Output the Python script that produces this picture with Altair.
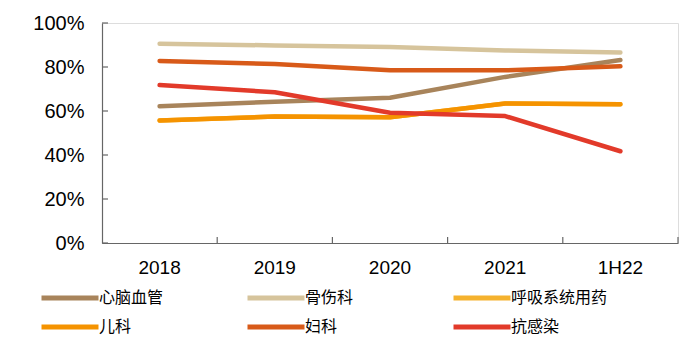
import altair as alt
import pandas as pd

categories = ["2018", "2019", "2020", "2021", "1H22"]
series = ["心脑血管", "骨伤科", "呼吸系统用药", "儿科", "妇科", "抗感染"]
colors = ["#A8845B", "#D6C49C", "#F5B22E", "#F59300", "#D85A19", "#E23A2A"]

xinnao = [62.2, 64.2, 66.0, 75.5, 83.2]
gushang = [90.6, 89.8, 89.1, 87.5, 86.6]
huxi = [55.7, 57.5, 57.2, 63.4, 63.1]
erke = [55.7, 57.5, 57.2, 63.4, 63.1]
fuke = [82.7, 81.4, 78.5, 78.5, 80.3]
kangganran = [71.8, 68.5, 59.2, 57.7, 41.7]

y_ticks = [0, 20, 40, 60, 80, 100]

values = [xinnao, gushang, huxi, erke, fuke, kangganran]
rows = []
for i, (s, vals) in enumerate(zip(series, values)):
    for c, v in zip(categories, vals):
        rows.append({"cat": c, "series": s, "order": i, "value": v / 100.0})
df = pd.DataFrame(rows)

W, H = 576, 220

xenc = alt.X("cat:N", sort=categories, bandPosition=0.5,
             scale=alt.Scale(type="band", paddingInner=0, paddingOuter=0),
             axis=alt.Axis(title=None, ticks=False, labelAngle=0, labelFont="Liberation Sans",
                           labelFontSize=19, labelColor="#000000", labelPadding=15,
                           domainColor="#666666", domainWidth=1.2, grid=False))
yscale = alt.Scale(domain=[0, 1], nice=False)

lines = alt.Chart(df).mark_line(strokeWidth=4.5, strokeCap="round", strokeJoin="round").encode(
    x=xenc,
    y=alt.Y("value:Q", scale=yscale,
            axis=alt.Axis(title=None, format=".0%", values=[t / 100 for t in y_ticks], ticks=False,
                          labelFont="Liberation Sans", labelFontSize=20, labelColor="#000000",
                          labelPadding=18, domainColor="#666666", domainWidth=1.2, grid=False)),
    color=alt.Color("series:N", sort=series,
                    scale=alt.Scale(domain=series, range=colors),
                    legend=alt.Legend(title=None, orient="none", legendX=-63, legendY=263,
                                      direction="horizontal",
                                      columns=3, gridAlign="all", columnPadding=41, rowPadding=7,
                                      symbolType="M-1,0H5", symbolSize=361, symbolStrokeWidth=5,
                                      labelFont="Noto Sans CJK SC", labelFontSize=16,
                                      labelColor="#000000", labelOffset=36)),
    order=alt.Order("order:Q"),
    detail="series:N",
)

ytick_df = pd.DataFrame({"v": [t / 100 for t in y_ticks]})
yticks = alt.Chart(ytick_df).mark_rule(color="#666666", strokeWidth=1.2).encode(
    y=alt.Y("v:Q", scale=yscale),
    x=alt.value(0), x2=alt.value(6),
)

xtick_df = pd.DataFrame({"cat": categories})
xticks = alt.Chart(xtick_df).mark_rule(color="#666666", strokeWidth=1.2).encode(
    x=alt.X("cat:N", sort=categories, bandPosition=1,
            scale=alt.Scale(type="band", paddingInner=0, paddingOuter=0)),
    y=alt.value(H - 6), y2=alt.value(H),
)

chart = alt.layer(lines, yticks, xticks).properties(
    width=W, height=H,
    autosize=alt.AutoSizeParams(type="none"),
    padding={"left": 102, "top": 23, "right": 16, "bottom": 117},
).configure_view(stroke=None).configure(background="#ffffff")

chart.save("out.html", embed_options={"renderer": "svg", "actions": False})
